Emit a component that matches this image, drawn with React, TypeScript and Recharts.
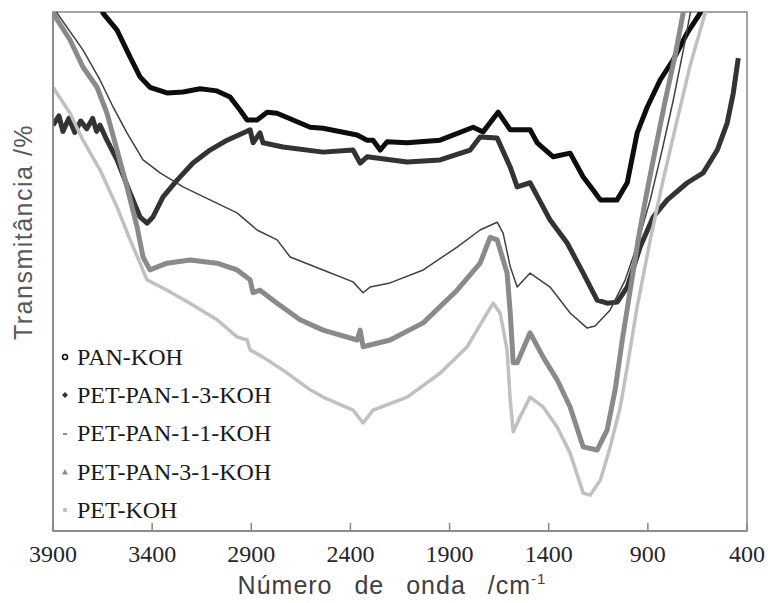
import React from "react";
import {
  LineChart,
  Line,
  XAxis,
  YAxis,
  ReferenceArea,
} from "recharts";

// [número de onda (cm-1), transmitância (u.a.)]
const panKoh: [number, number][] = [
  [3670, 103], [3648, 99.8], [3577, 96.5], [3511, 91.3], [3461, 87.5], [3411, 85.5],
  [3325, 84.4], [3244, 84.6], [3158, 85.2], [3073, 84.8], [3007, 83.6], [2957, 81.1],
  [2921, 79.2], [2871, 79.2], [2820, 80.7], [2770, 80.5], [2603, 77.8], [2538, 77.6],
  [2366, 76.3], [2316, 75.3], [2286, 75.3], [2250, 73.4], [2215, 75.0], [2114, 74.8],
  [1948, 75.3], [1781, 77.8], [1731, 76.9], [1655, 80.7], [1594, 77.3], [1494, 77.3],
  [1458, 74.8], [1377, 72.1], [1292, 72.8], [1226, 68.2], [1176, 65.7], [1140, 63.8],
  [1105, 63.8], [1055, 63.8], [1004, 67.1], [954, 76.7], [903, 81.7], [838, 86.9],
  [772, 90.8], [701, 96.0], [636, 99.8], [610, 103],
];

const petPan13: [number, number][] = [
  [3900, 78.2], [3870, 80], [3850, 77], [3820, 79.5], [3790, 76.8], [3760, 79],
  [3730, 77.5], [3700, 79.5], [3680, 77], [3663, 78.2], [3628, 75.3], [3577, 71.5],
  [3511, 65.1], [3461, 60.5], [3426, 59.3], [3396, 60.5], [3345, 64.4], [3274, 67.6],
  [3194, 70.9], [3108, 73.4], [3022, 75.3], [2941, 76.7], [2906, 77.3], [2891, 74.8],
  [2856, 76.7], [2841, 74.8], [2740, 74.0], [2538, 73.0], [2387, 73.4], [2351, 70.9],
  [2316, 72.1], [2114, 71.1], [1948, 71.5], [1796, 73.4], [1746, 75.9], [1660, 75.7],
  [1594, 70.1], [1559, 66.3], [1494, 67.1], [1428, 62.4], [1393, 59.9], [1307, 55.5],
  [1226, 49.7], [1156, 44.5], [1105, 43.9], [1055, 44.1], [1004, 47.0], [939, 54.7],
  [873, 60.5], [802, 63.8], [701, 67.1], [621, 69.0], [550, 73.4], [500, 78.6],
  [469, 84.4], [444, 91.1],
];

const petPan11: [number, number][] = [
  [3900, 103], [3880, 99.8], [3749, 92.7], [3663, 86.9], [3597, 81.7], [3527, 76.7],
  [3446, 71.5], [3360, 69.0], [3244, 66.3], [3108, 63.8], [2972, 61.3], [2871, 58.0],
  [2770, 56.1], [2704, 52.8], [2538, 50.3], [2387, 48.0], [2336, 45.9], [2301, 47.0],
  [2200, 47.8], [2033, 50.3], [1862, 54.7], [1746, 58.0], [1660, 59.5], [1630, 57.4],
  [1594, 50.9], [1559, 47.0], [1494, 49.7], [1393, 47.0], [1292, 42.0], [1206, 39.1],
  [1166, 39.5], [1090, 42.6], [1014, 48.4], [954, 55.1], [888, 63.8], [828, 73.4],
  [772, 83.0], [721, 92.7], [686, 99.8], [670, 103],
];

const petPan31: [number, number][] = [
  [3900, 99.8], [3814, 94.6], [3749, 89.4], [3678, 85.5], [3628, 80.5], [3577, 73.4],
  [3527, 66.3], [3476, 58.6], [3446, 52.8], [3411, 50.3], [3325, 51.6], [3209, 52.2],
  [3073, 51.6], [2972, 50.3], [2906, 48.4], [2891, 45.9], [2856, 46.4], [2770, 43.9],
  [2654, 40.7], [2538, 38.7], [2366, 36.8], [2351, 38.7], [2336, 35.5], [2200, 36.8],
  [2033, 40.1], [1862, 46.4], [1746, 51.6], [1695, 56.6], [1660, 56.1], [1610, 49.7],
  [1594, 42.0], [1579, 32.4], [1559, 32.4], [1494, 38.2], [1428, 33.5], [1357, 29.1],
  [1292, 23.9], [1226, 16.2], [1156, 15.6], [1105, 19.5], [1065, 27.2], [1029, 36.8],
  [989, 46.4], [949, 56.1], [908, 64.7], [863, 73.4], [812, 83.0], [762, 91.7],
  [722, 99.8], [705, 103],
];

const petKoh: [number, number][] = [
  [3900, 85.5], [3814, 80.5], [3749, 75.3], [3663, 69.6], [3577, 62.4], [3511, 56.1],
  [3461, 51.6], [3426, 48.4], [3325, 46.4], [3209, 43.9], [3073, 40.7], [2972, 37.4],
  [2921, 36.8], [2906, 34.9], [2841, 33.5], [2740, 31.0], [2603, 27.2], [2538, 25.8],
  [2387, 23.3], [2336, 20.8], [2286, 23.3], [2114, 25.8], [1948, 30.4], [1811, 35.5],
  [1731, 40.7], [1680, 43.9], [1645, 42.0], [1610, 34.9], [1594, 25.2], [1579, 19.1],
  [1544, 22.0], [1494, 25.8], [1428, 23.9], [1357, 20.0], [1292, 15.0], [1226, 7.3],
  [1191, 6.9], [1140, 9.8], [1090, 16.2], [1039, 23.9], [1004, 31.6], [954, 43.2],
  [888, 56.1], [823, 67.6], [752, 79.2], [686, 89.8], [611, 99.8], [595, 103],
];

const xTicks = [3900, 3400, 2900, 2400, 1900, 1400, 900, 400];

const series = [
  { name: "PAN-KOH", pts: panKoh, color: "#0d0d0d", width: 5, marker: "ring" },
  { name: "PET-PAN-1-3-KOH", pts: petPan13, color: "#333333", width: 5, marker: "diamond" },
  { name: "PET-PAN-1-1-KOH", pts: petPan11, color: "#404040", width: 1.5, marker: "dash" },
  { name: "PET-PAN-3-1-KOH", pts: petPan31, color: "#8a8a8a", width: 5, marker: "triangle" },
  { name: "PET-KOH", pts: petKoh, color: "#c0c0c0", width: 3.5, marker: "dot" },
];

const toRows = (pts: [number, number][]) => pts.map(([wn, t]) => ({ wn, t }));

const axisColor = "#868686";
const serif = "'Liberation Serif', 'Times New Roman', serif";
const sans = "'Liberation Sans', Arial, sans-serif";

const XTick = (props: any) => {
  const { x, y, payload } = props;
  return (
    <g>
      <line x1={x} x2={x} y1={y} y2={y - 8} stroke={axisColor} strokeWidth={1.5} />
      <text
        x={x}
        y={y + 31}
        textAnchor="middle"
        fontFamily="Liberation Serif"
        fontSize={24}
        fill="#262626"
      >
        {payload.value}
      </text>
    </g>
  );
};

const Marker = ({ kind, color }: { kind: string; color: string }) => (
  <svg width={12} height={12} style={{ marginRight: 6 }}>
    {kind === "ring" && <circle cx={6} cy={6} r={2.5} fill="none" stroke={color} strokeWidth={1.5} />}
    {kind === "diamond" && <polygon points="6,3 9,6 6,9 3,6" fill={color} />}
    {kind === "dash" && <line x1={4} x2={8} y1={6} y2={6} stroke={color} strokeWidth={1.2} />}
    {kind === "triangle" && <polygon points="6,3 9,8.5 3,8.5" fill={color} />}
    {kind === "dot" && <circle cx={6} cy={6} r={2.2} fill={color} />}
  </svg>
);

const LegendBox = () => (
  <div
    style={{
      position: "absolute",
      left: 59,
      top: 338,
      fontFamily: serif,
      fontSize: 24,
      color: "#1a1a1a",
      pointerEvents: "none",
    }}
  >
    {series.map((s) => (
      <div key={s.name} style={{ display: "flex", alignItems: "center", height: 38.3 }}>
        <Marker kind={s.marker} color={s.color} />
        <span>{s.name}</span>
      </div>
    ))}
  </div>
);

export default function App() {
  return (
    <div style={{ position: "relative", width: 768, height: 603 }}>
      <style>{`body { margin: 0; overflow: hidden; } .recharts-wrapper, .recharts-surface { overflow: visible !important; }`}</style>
      <LineChart width={768} height={603} margin={{ top: 12, right: 21, bottom: 0, left: 0 }}>
        <XAxis
          dataKey="wn"
          type="number"
          domain={[400, 3900]}
          ticks={xTicks}
          reversed
          allowDataOverflow
          interval={0}
          height={72}
          tickSize={0}
          tickMargin={0}
          tickLine={false}
          axisLine={{ stroke: axisColor, strokeWidth: 1.5 }}
          tick={<XTick />}
          label={{
            content: (p: any) => {
              const vb = p.viewBox;
              return (
                <text
                  x={vb.x + vb.width / 2 - 8}
                  y={594}
                  textAnchor="middle"
                  style={{ fontFamily: sans, fontSize: 25, letterSpacing: 1, wordSpacing: 14 }}
                  fill="#404040"
                >
                  Número de onda /cm<tspan dy={-10} style={{ fontSize: 15 }}>-1</tspan>
                </text>
              );
            },
          }}
        />
        <YAxis
          dataKey="t"
          type="number"
          domain={[0, 100]}
          allowDataOverflow
          width={53}
          tick={false}
          tickLine={false}
          axisLine={{ stroke: axisColor, strokeWidth: 1.5 }}
          label={{
            content: () => (
              <text
                x={23}
                y={232}
                transform="rotate(-90 23 232)"
                textAnchor="middle"
                dominantBaseline="central"
                style={{ fontFamily: sans, fontSize: 25, letterSpacing: 1.5 }}
                fill="#595959"
              >
                Transmitância /%
              </text>
            ),
          }}
        />
        <ReferenceArea x1={400} x2={3900} y1={0} y2={100} fill="none" stroke={axisColor} strokeWidth={1.5} />
        {series.map((s) => (
          <Line
            key={s.name}
            data={toRows(s.pts)}
            dataKey="t"
            name={s.name}
            type="linear"
            stroke={s.color}
            strokeWidth={s.width}
            strokeLinejoin="round"
            dot={false}
            activeDot={false}
            isAnimationActive={false}
          />
        ))}
      </LineChart>
      <LegendBox />
    </div>
  );
}
